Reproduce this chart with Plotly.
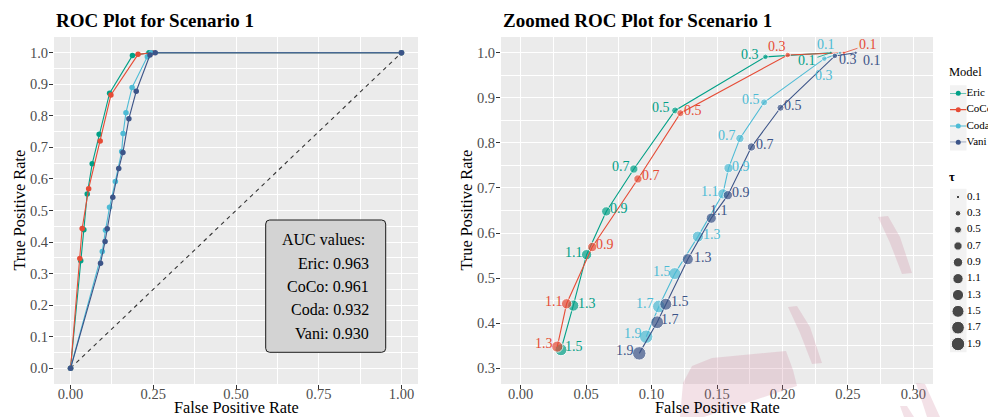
import plotly.graph_objects as go
import math

# ---------------- data ----------------
models = ["Eric", "CoCo", "Coda", "Vani"]
colors = {"Eric": "#00A087", "CoCo": "#E64B35", "Coda": "#4DBBD5", "Vani": "#3C5488"}

tau_eric = [0.1, 0.3, 0.5, 0.7, 0.9, 1.1, 1.3, 1.5]
fpr_eric = [0.237, 0.187, 0.118, 0.0865, 0.0654, 0.0504, 0.0402, 0.0308]
tpr_eric = [1.000, 0.991, 0.872, 0.742, 0.648, 0.552, 0.439, 0.341]

tau_coco = [0.1, 0.3, 0.5, 0.7, 0.9, 1.1, 1.3]
fpr_coco = [0.247, 0.204, 0.122, 0.0896, 0.0547, 0.0351, 0.0280]
tpr_coco = [1.000, 0.995, 0.866, 0.720, 0.569, 0.443, 0.348]

tau_coda = [0.1, 0.3, 0.5, 0.7, 0.9, 1.1, 1.3, 1.5, 1.7, 1.9]
fpr_coda = [0.244, 0.232, 0.186, 0.1675, 0.1588, 0.1545, 0.1354, 0.1178, 0.1056, 0.0959]
tpr_coda = [1.000, 0.987, 0.890, 0.810, 0.744, 0.687, 0.592, 0.510, 0.437, 0.370]

tau_vani = [0.1, 0.3, 0.5, 0.7, 0.9, 1.1, 1.3, 1.5, 1.7, 1.9]
fpr_vani = [0.256, 0.240, 0.1985, 0.1763, 0.1583, 0.1456, 0.1277, 0.1109, 0.1043, 0.0906]
tpr_vani = [1.000, 0.993, 0.878, 0.791, 0.684, 0.633, 0.542, 0.442, 0.402, 0.333]

auc_values = {"Eric": "0.963", "CoCo": "0.961", "Coda": "0.932", "Vani": "0.930"}
tau_legend = [0.1, 0.3, 0.5, 0.7, 0.9, 1.1, 1.3, 1.5, 1.7, 1.9]

roc_start = [0.0, 0.0]
roc_end = [1.0, 1.0]
diag_x = [0.0, 1.0]
diag_y = [0.0, 1.0]

left_xticks = [0, 0.25, 0.5, 0.75, 1.0]
left_yticks = [round(0.1 * i, 1) for i in range(11)]
right_xticks = [0, 0.05, 0.10, 0.15, 0.20, 0.25, 0.30]
right_yticks = [0.3, 0.4, 0.5, 0.6, 0.7, 0.8, 0.9, 1.0]

data = {
    "Eric": (tau_eric, fpr_eric, tpr_eric),
    "CoCo": (tau_coco, fpr_coco, tpr_coco),
    "Coda": (tau_coda, fpr_coda, tpr_coda),
    "Vani": (tau_vani, fpr_vani, tpr_vani),
}

# label offsets (pixels: dx right, dy down, repel segment) for the zoomed panel labels
label_off = {
    "Eric": [(-24, 8, True), (-15, -2, False), (-14, -3, False), (-13, -3, False), (13, -3, False),
             (-13, -2, False), (14, -2, False), (13, -3, False)],
    "CoCo": [(24, -8, True), (-11, -9, False), (13, -3, False), (13, -3, False), (13, -2, False),
             (-13, -2, False), (-13, -3, False)],
    "Coda": [(-14, -8, False), (0, 17, False), (-13, -3, False), (-13, -3, False), (12, -2, False),
             (-13, -2, False), (14, -2, False), (-13, -2, False), (-14, -3, False), (-13, -3, False)],
    "Vani": [(16, 8, False), (13, 4, False), (13, -2, False), (14, -2, False), (13, -3, False),
             (8, -8, False), (15, -2, False), (14, -3, False), (13, -3, False), (-14, -3, False)],
}

# page body has an 8px margin: figure is sized to fit the window exactly
OX, OY = 8, 8
W, H = 996 - OX, 417 - OY
FONT = "Liberation Serif"
PANEL = "#EBEBEB"


def PX(x):
    return (x - OX) / W


def PY(y):
    return 1 - (y - OY) / H


TMIN, TMAX = min(tau_legend), max(tau_legend)
DMIN, DMAX = 3.5, 13.5


def size_of(t):
    r = (t - TMIN) / (TMAX - TMIN)
    return math.sqrt(DMIN ** 2 + (DMAX ** 2 - DMIN ** 2) * r)


fig = go.Figure()

# diagonal reference
fig.add_trace(go.Scatter(x=diag_x, y=diag_y, mode="lines", xaxis="x", yaxis="y",
                         line=dict(color="#333333", width=1.1, dash="4px,4px"),
                         showlegend=False, hoverinfo="skip"))

# left: full ROC
for m in models:
    tau, fpr, tpr = data[m]
    xs = [roc_start[0]] + fpr[::-1] + [roc_end[0]]
    ys = [roc_start[1]] + tpr[::-1] + [roc_end[1]]
    fig.add_trace(go.Scatter(x=xs, y=ys, mode="lines+markers", xaxis="x", yaxis="y",
                             line=dict(color=colors[m], width=1.1),
                             marker=dict(color=colors[m], size=5.5),
                             showlegend=False, name=m))

# right: zoomed ROC
annotations = []
for m in models:
    tau, fpr, tpr = data[m]
    fig.add_trace(go.Scatter(x=fpr, y=tpr, mode="lines+markers", xaxis="x2", yaxis="y2",
                             line=dict(color=colors[m], width=1.1),
                             marker=dict(color=colors[m], size=[size_of(t) for t in tau]),
                             showlegend=False, name=m))
    for t, xv, yv, (dx, dy, seg) in zip(tau, fpr, tpr, label_off[m]):
        a = dict(x=xv, y=yv, xref="x2", yref="y2", text=f"{t:.1f}",
                 font=dict(family=FONT, size=14, color=colors[m]))
        if seg:
            a.update(showarrow=True, ax=dx, ay=dy, arrowhead=0, arrowwidth=0.8,
                     arrowcolor=colors[m], standoff=0)
        else:
            a.update(showarrow=False, xshift=dx, yshift=-dy)
        annotations.append(a)

# legend "Model": keys drawn on a hidden axis pair (x4/y4)
KEY_LINE = [0, 1]
KEY_MID = 0.5
LABEL_X = 1
for m in models:
    fig.add_trace(go.Scatter(x=KEY_LINE, y=[m, m], mode="lines", xaxis="x4", yaxis="y4",
                             line=dict(color=colors[m], width=1.1), cliponaxis=False,
                             showlegend=False, hoverinfo="skip"))
    fig.add_trace(go.Scatter(x=[KEY_MID], y=[m], mode="markers", xaxis="x4", yaxis="y4",
                             marker=dict(color=colors[m], size=5), cliponaxis=False,
                             showlegend=False, hoverinfo="skip"))
fig.add_trace(go.Scatter(x=[LABEL_X] * len(models), y=models, mode="text", text=models,
                         textposition="middle right", xaxis="x4", yaxis="y4", cliponaxis=False,
                         textfont=dict(family=FONT, size=11, color="black"),
                         showlegend=False, hoverinfo="skip"))

# legend "τ": sizes drawn on a hidden axis pair (x3/y3)
KEY_X = 0
fig.add_trace(go.Scatter(x=[KEY_X] * len(tau_legend), y=tau_legend, mode="markers",
                         xaxis="x3", yaxis="y3", cliponaxis=False, showlegend=False,
                         hoverinfo="skip",
                         marker=dict(color="black", size=[size_of(t) for t in tau_legend])))
fig.add_trace(go.Scatter(x=[LABEL_X] * len(tau_legend), y=tau_legend, mode="text",
                         text=[f"{t:.1f}" for t in tau_legend], textposition="middle right",
                         textfont=dict(family=FONT, size=11, color="black"),
                         xaxis="x3", yaxis="y3", cliponaxis=False, showlegend=False,
                         hoverinfo="skip"))

# titles & axis titles
annotations += [
    dict(x=PX(54), y=PY(21), xref="paper", yref="paper", xanchor="left", yanchor="middle",
         text="<b>ROC Plot for Scenario 1</b>", showarrow=False,
         font=dict(family=FONT, size=19, color="black")),
    dict(x=PX(501), y=PY(21), xref="paper", yref="paper", xanchor="left", yanchor="middle",
         text="<b>Zoomed ROC Plot for Scenario 1</b>", showarrow=False,
         font=dict(family=FONT, size=19, color="black")),
    dict(x=PX(236), y=PY(407), xref="paper", yref="paper", xanchor="center", yanchor="middle",
         text="False Positive Rate", showarrow=False, font=dict(family=FONT, size=16.3, color="black")),
    dict(x=PX(717), y=PY(407), xref="paper", yref="paper", xanchor="center", yanchor="middle",
         text="False Positive Rate", showarrow=False, font=dict(family=FONT, size=16.3, color="black")),
    dict(x=PX(19), y=PY(210.5), xref="paper", yref="paper", xanchor="center", yanchor="middle",
         text="True Positive Rate", textangle=-90, showarrow=False,
         font=dict(family=FONT, size=16.3, color="black")),
    dict(x=PX(466), y=PY(210.5), xref="paper", yref="paper", xanchor="center", yanchor="middle",
         text="True Positive Rate", textangle=-90, showarrow=False,
         font=dict(family=FONT, size=16.3, color="black")),
    dict(x=PX(947), y=PY(72), xref="paper", yref="paper", xanchor="left", yanchor="middle",
         text="Model", showarrow=False, font=dict(family=FONT, size=12.5, color="black")),
    dict(x=PX(947), y=PY(177), xref="paper", yref="paper", xanchor="left", yanchor="middle",
         text="<b>τ</b>", showarrow=False, font=dict(family=FONT, size=12.5, color="black")),
]

# AUC box text
auc_lines = ["AUC values:"] + [f"{m}: {auc_values[m]}" for m in models]
for i, line in enumerate(auc_lines):
    annotations.append(dict(x=PX(370.7 - (4 if i == 0 else 0)), y=PY(240 + 23.3 * i),
                            xref="paper", yref="paper", xanchor="right", yanchor="middle",
                            text=line, showarrow=False,
                            font=dict(family=FONT, size=16, color="black")))


def rounded_rect(x0, y0, x1, y1, r):
    return (f"M {PX(x0 + r)},{PY(y0)} L {PX(x1 - r)},{PY(y0)} Q {PX(x1)},{PY(y0)} {PX(x1)},{PY(y0 + r)} "
            f"L {PX(x1)},{PY(y1 - r)} Q {PX(x1)},{PY(y1)} {PX(x1 - r)},{PY(y1)} "
            f"L {PX(x0 + r)},{PY(y1)} Q {PX(x0)},{PY(y1)} {PX(x0)},{PY(y1 - r)} "
            f"L {PX(x0)},{PY(y0 + r)} Q {PX(x0)},{PY(y0)} {PX(x0 + r)},{PY(y0)} Z")


def poly(pts):
    return "M " + " L ".join(f"{PX(x)},{PY(y)}" for x, y in pts) + " Z"


shapes = [
    # panel backgrounds (below gridlines)
    dict(type="rect", xref="x domain", yref="y domain", x0=0, x1=1, y0=0, y1=1,
         fillcolor=PANEL, line=dict(width=0), layer="below"),
    dict(type="rect", xref="x2 domain", yref="y2 domain", x0=0, x1=1, y0=0, y1=1,
         fillcolor=PANEL, line=dict(width=0), layer="below"),
    # AUC label box
    dict(type="path", path=rounded_rect(265.7, 220, 385.7, 352.3, 4), xref="paper", yref="paper",
         fillcolor="#D3D3D3", line=dict(color="#1a1a1a", width=1), layer="above"),
    # legend key background strips (grey95)
    dict(type="rect", xref="paper", yref="paper", x0=PX(950), x1=PX(966.5),
         y0=PY(150.5), y1=PY(85.2), fillcolor="#F2F2F2", line=dict(width=0), layer="below"),
    dict(type="rect", xref="paper", yref="paper", x0=PX(950), x1=PX(966.5),
         y0=PY(352.2), y1=PY(188.8), fillcolor="#F2F2F2", line=dict(width=0), layer="below"),
]

wm = "rgba(200,120,145,0.22)"
for pts in [
    [(878, 217), (888, 216), (900, 237), (912, 273), (902, 274), (890, 243)],
    [(788, 307), (797, 306), (810, 327), (822, 363), (812, 364), (800, 333)],
    [(680, 417), (683, 383), (692, 366), (712, 358), (786, 351), (793, 370), (797, 386), (704, 417)],
    [(916, 383), (925, 384), (940, 417), (927, 417)],
    [(900, 406), (907, 406), (914, 417), (904, 417)],
]:
    shapes.append(dict(type="path", path=poly(pts), xref="paper", yref="paper",
                       fillcolor=wm, line=dict(width=0), layer="above"))

tickfont = dict(family=FONT, size=14.5, color="#4D4D4D")
common = dict(showgrid=True, gridcolor="white", gridwidth=1.1, zeroline=False, showline=False,
              ticks="outside", ticklen=4, tickwidth=1, tickcolor="#333333", tickfont=tickfont)

ydom = [PY(384), PY(37)]
fig.update_layout(
    width=W, height=H, margin=dict(l=0, r=0, t=0, b=0, autoexpand=False), autosize=False,
    paper_bgcolor="white", plot_bgcolor="rgba(0,0,0,0)", showlegend=False,
    font=dict(family=FONT),
    xaxis=dict(domain=[PX(54), PX(418)], range=[-0.05, 1.05], tickvals=left_xticks,
               ticktext=[f"{v:.2f}" for v in left_xticks], ticklabelstandoff=-7,
               minor=dict(tickvals=[0.125, 0.375, 0.625, 0.875], showgrid=True, gridcolor="white",
                          gridwidth=0.5, ticks=""), **common),
    yaxis=dict(domain=ydom, range=[-0.05, 1.05], tickvals=left_yticks,
               ticktext=[f"{v:.1f}" for v in left_yticks], ticklabelstandoff=-2,
               minor=dict(tickvals=[0.05 + 0.1 * i for i in range(10)], showgrid=True,
                          gridcolor="white", gridwidth=0.5, ticks=""), **common),
    xaxis2=dict(domain=[PX(501), PX(933)], range=[-0.015, 0.315], tickvals=right_xticks,
                ticktext=[f"{v:.2f}" for v in right_xticks], anchor="y2", ticklabelstandoff=-7,
                minor=dict(tickvals=[0.025 + 0.05 * i for i in range(6)], showgrid=True,
                           gridcolor="white", gridwidth=0.5, ticks=""), **common),
    yaxis2=dict(domain=ydom, range=[0.265, 1.035], tickvals=right_yticks,
                ticktext=[f"{v:.1f}" for v in right_yticks], anchor="x2", ticklabelstandoff=-2,
                minor=dict(tickvals=[0.35 + 0.1 * i for i in range(7)], showgrid=True,
                           gridcolor="white", gridwidth=0.5, ticks=""), **common),
    xaxis3=dict(domain=[PX(958), PX(967)], range=[KEY_X, LABEL_X], visible=False,
                fixedrange=True, anchor="y3"),
    yaxis3=dict(domain=[PY(344), PY(197)], range=[max(tau_legend), min(tau_legend)],
                visible=False, fixedrange=True, anchor="x3"),
    xaxis4=dict(domain=[PX(950), PX(966.5)], range=[0, LABEL_X], visible=False,
                fixedrange=True, anchor="y4"),
    yaxis4=dict(domain=[PY(142.3), PY(93.3)], type="category", categoryorder="array",
                categoryarray=models, range=[len(models) - 1, 0],
                visible=False, fixedrange=True, anchor="x4"),
    annotations=annotations,
    shapes=shapes,
)

fig.write_html("out.html", config={"displayModeBar": False, "responsive": False})
